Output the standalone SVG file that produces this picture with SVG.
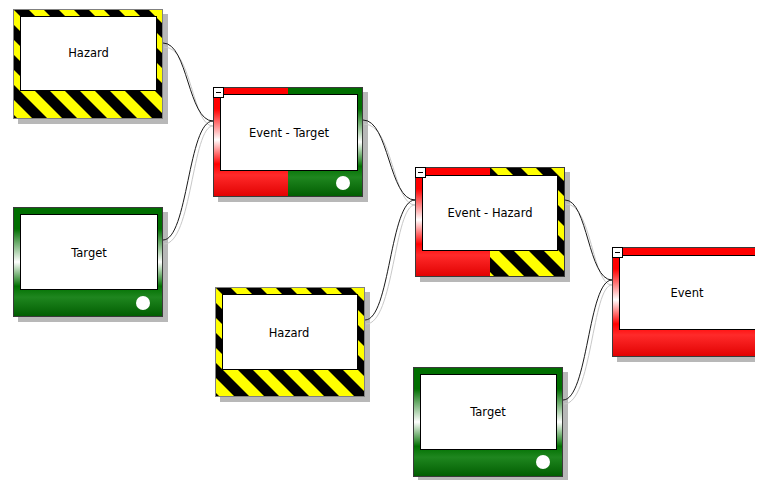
<svg xmlns="http://www.w3.org/2000/svg" width="763" height="480" viewBox="0 0 763 480">
<defs>
  <linearGradient id="gRed" x1="0" y1="0" x2="0" y2="1">
    <stop offset="0" stop-color="#ff0000"/>
    <stop offset="0.2" stop-color="#ff0000"/>
    <stop offset="0.48" stop-color="#ffffff"/>
    <stop offset="0.7" stop-color="#ff0000"/>
    <stop offset="0.8" stop-color="#ff2a2a"/>
    <stop offset="1" stop-color="#e00000"/>
  </linearGradient>
  <linearGradient id="gGreen" x1="0" y1="0" x2="0" y2="1">
    <stop offset="0" stop-color="#006e00"/>
    <stop offset="0.2" stop-color="#006e00"/>
    <stop offset="0.5" stop-color="#ffffff"/>
    <stop offset="0.72" stop-color="#007000"/>
    <stop offset="0.82" stop-color="#1f861f"/>
    <stop offset="1" stop-color="#005c00"/>
  </linearGradient>
  <pattern id="hz" patternUnits="userSpaceOnUse" width="30" height="30">
    <rect width="30" height="30" fill="#ffff00"/>
    <polygon points="0,0 15,0 30,15 30,30" fill="#000"/>
    <polygon points="0,15 15,30 0,30" fill="#000"/>
  </pattern>
  <clipPath id="clipR"><rect x="0" y="0" width="755" height="480"/></clipPath>
</defs>
<style>
  .shadow{fill:#b8b8b8}
  .outline{fill:none;stroke:#3a3a3a;stroke-width:1}
  .hzo{fill:none;stroke:#808080;stroke-width:1}
  .inner{fill:#ffffff;stroke:#000000;stroke-width:1}
  .lbl{font-family:"DejaVu Sans",Verdana,sans-serif;font-size:11.5px;fill:#000;text-anchor:middle}
  .dot{fill:#ffffff}
  .tog{fill:#ffffff;stroke:#000000;stroke-width:1}
  .togl{stroke:#000000;stroke-width:1}
  .c{fill:none;stroke:#1a1a1a;stroke-width:1}
  .cs{fill:none;stroke:#c8c8c8;stroke-width:1}
</style>

<g id="n1" transform="translate(13,9)">
  <rect class="shadow" x="5" y="5" width="150" height="110"/>
  <rect x="0" y="0" width="150" height="110" fill="url(#hz)"/>
  <rect class="hzo" x="0.5" y="0.5" width="149" height="109"/>
  <rect class="inner" x="7.5" y="7.5" width="136" height="74"/>
  <text class="lbl" x="75.5" y="48">Hazard</text>
</g>

<g id="n2" transform="translate(213,87)">
  <rect class="shadow" x="5" y="5" width="150" height="110"/>
  <rect x="0" y="0" width="75" height="110" fill="url(#gRed)"/>
  <rect x="75" y="0" width="75" height="110" fill="url(#gGreen)"/>
  <rect class="outline" x="0.5" y="0.5" width="149" height="109"/>
  <rect class="inner" x="7.5" y="7.5" width="137" height="76"/>
  <text class="lbl" x="76" y="50">Event - Target</text>
  <circle class="dot" cx="130" cy="96" r="7"/>
  <rect class="tog" x="0.5" y="0.5" width="10" height="10"/>
  <line class="togl" x1="3" y1="5.5" x2="8" y2="5.5"/>
</g>

<g id="n3" transform="translate(13,207)">
  <rect class="shadow" x="5" y="5" width="150" height="110"/>
  <rect x="0" y="0" width="150" height="110" fill="url(#gGreen)"/>
  <rect class="outline" x="0.5" y="0.5" width="149" height="109"/>
  <rect class="inner" x="7.5" y="7.5" width="137" height="75"/>
  <text class="lbl" x="76" y="50">Target</text>
  <circle class="dot" cx="130" cy="96" r="7"/>
</g>

<g id="n4" transform="translate(415,167)">
  <rect class="shadow" x="5" y="5" width="150" height="110"/>
  <rect x="0" y="0" width="75" height="110" fill="url(#gRed)"/>
  <rect x="75" y="0" width="75" height="110" fill="url(#hz)"/>
  <rect class="outline" x="0.5" y="0.5" width="149" height="109"/>
  <rect class="inner" x="7.5" y="8.5" width="135" height="75"/>
  <text class="lbl" x="75" y="50">Event - Hazard</text>
  <rect class="tog" x="0.5" y="0.5" width="10" height="10"/>
  <line class="togl" x1="3" y1="5.5" x2="8" y2="5.5"/>
</g>

<g id="n5" clip-path="url(#clipR)">
  <g transform="translate(612,247)">
    <rect class="shadow" x="5" y="5" width="150" height="110"/>
    <rect x="0" y="0" width="150" height="110" fill="url(#gRed)"/>
    <rect class="outline" x="0.5" y="0.5" width="149" height="109"/>
    <rect class="inner" x="7.5" y="8.5" width="137" height="74"/>
    <text class="lbl" x="75" y="50">Event</text>
    <rect class="tog" x="0.5" y="0.5" width="10" height="10"/>
    <line class="togl" x1="3" y1="5.5" x2="8" y2="5.5"/>
  </g>
</g>

<g id="n6" transform="translate(215,287)">
  <rect class="shadow" x="5" y="5" width="150" height="110"/>
  <rect x="0" y="0" width="150" height="110" fill="url(#hz)"/>
  <rect class="hzo" x="0.5" y="0.5" width="149" height="109"/>
  <rect class="inner" x="7.5" y="7.5" width="135" height="75"/>
  <text class="lbl" x="74" y="50">Hazard</text>
</g>

<g id="n7" transform="translate(413,367)">
  <rect class="shadow" x="5" y="5" width="150" height="110"/>
  <rect x="0" y="0" width="150" height="110" fill="url(#gGreen)"/>
  <rect class="outline" x="0.5" y="0.5" width="149" height="109"/>
  <rect class="inner" x="7.5" y="7.5" width="136" height="75"/>
  <text class="lbl" x="75" y="49">Target</text>
  <circle class="dot" cx="130" cy="95" r="7"/>
</g>

<g id="connectors">
  <path class="cs" d="M164,47 C192,47 192,126 213,126"/>
  <path class="cs" d="M164,244 C192,244 192,126 213,126"/>
  <path class="cs" d="M364,124 C393,124 393,205 415,205"/>
  <path class="cs" d="M366,324 C394,324 394,205 415,205"/>
  <path class="cs" d="M566,204 C592,204 592,285 612,285"/>
  <path class="cs" d="M564,404 C592,404 592,285 612,285"/>
  <path class="c" d="M163,43 C188,43 188,121 213,121"/>
  <path class="c" d="M163,240 C188,240 188,121 213,121"/>
  <path class="c" d="M363,120 C389,120 389,200 415,200"/>
  <path class="c" d="M365,320 C390,320 390,200 415,200"/>
  <path class="c" d="M565,200 C588,200 588,280 612,280"/>
  <path class="c" d="M563,400 C588,400 588,280 612,280"/>
</g>
</svg>
